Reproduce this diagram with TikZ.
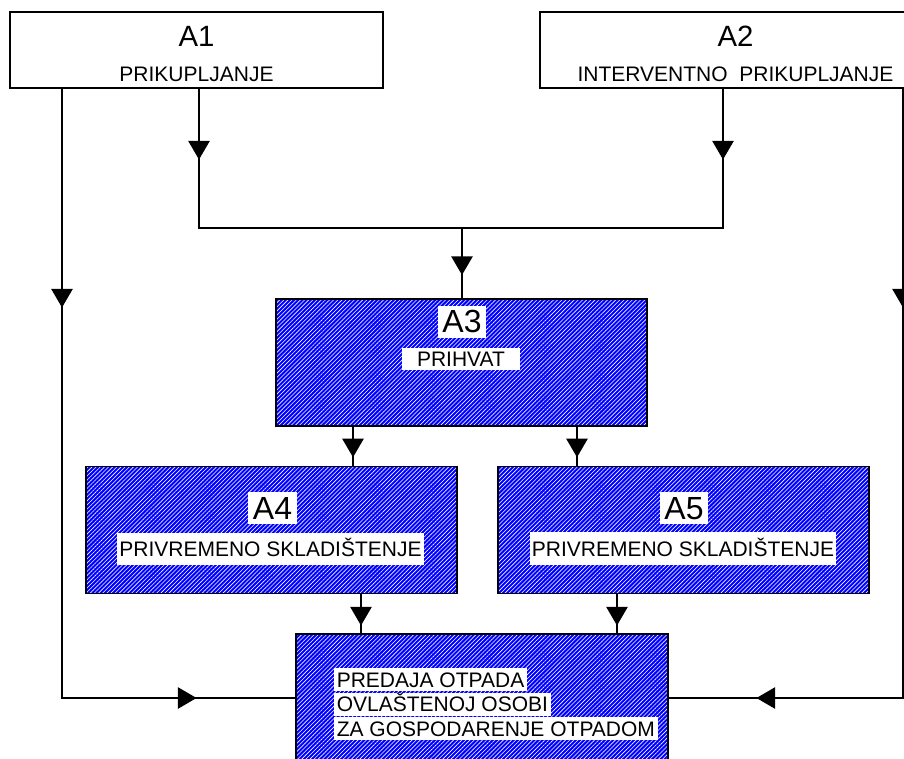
\documentclass[tikz,border=0pt]{standalone}
\usepackage{fontspec}
\setmainfont{Liberation Sans}
\usetikzlibrary{arrows.meta,patterns.meta,decorations.markings,positioning}

\begin{document}
\begin{tikzpicture}[x=0.75pt,y=-0.75pt,line width=1.2pt,
            top box/.style={draw,line width=0.8pt,inner sep=0pt,minimum height=57pt},
            work box/.style={draw,line width=0.8pt,inner sep=0pt,preaction={fill=blue},
                pattern={Lines[angle=45,distance=2.2pt,line width=0.45pt]},pattern color=white,
                minimum width=278.25pt,minimum height=95.25pt},
            tag/.style={fill=white,inner xsep=3.5pt,inner ysep=3.4pt,text height=17.2pt,text depth=0pt,
                font=\fontsize{24}{26}\selectfont},
            top tag/.style={inner sep=0pt,text height=15.8pt,text depth=0pt,font=\fontsize{22}{24}\selectfont},
            caption/.style={fill=white,inner xsep=1.5pt,inner ysep=2.6pt,text height=11.3pt,text depth=0pt,
                font=\fontsize{15.75}{18}\selectfont},
            flow arrow/.style={postaction={decorate,decoration={markings,
                mark=at position #1 with {\arrow{Triangle[length=14pt,width=16pt]}}}}}]

        \clip (0,0) rectangle (904,758);

        % top boxes
        \node[top box,minimum width=279.75pt] (A1) at (196.5,50) {};
        \node[top box,minimum width=293.25pt] (A2) at (735.5,50) {};
        \node[top tag] (A1t) at (196.5,36) {A1};
        \node[caption,fill=none] (A1s) at (196.5,73.5) {PRIKUPLJANJE};
        \node[top tag] (A2t) at (735.5,36) {A2};
        \node[caption,fill=none] (A2s) at (735.5,73.5) {INTERVENTNO\ \ PRIKUPLJANJE};

        % hatched boxes
        \node[work box] (A3) at (461.5,362.5) {};
        \node[work box] (A4) at (271.5,530) {};
        \node[work box] (A5) at (683.5,530) {};
        \node[work box,minimum width=279pt,minimum height=96pt] (A6) at (482,698) {};

        \node[tag] (A3t) at (462,321.5) {A3};
        \node[caption,inner xsep=11.6pt] (A3s) at (461,359) {PRIHVAT};
        \node[tag] (A4t) at (272.5,508) {A4};
        \node[caption,inner ysep=6.4pt] (A4s) at (270.5,549) {PRIVREMENO SKLADIŠTENJE};
        \node[tag] (A5t) at (684,508) {A5};
        \node[caption,inner ysep=6.4pt] (A5s) at (683,548.5) {PRIVREMENO SKLADIŠTENJE};

        \node[caption,inner xsep=2.25pt,inner ysep=3pt,anchor=west] (A6a) at (333,679.5) {PREDAJA OTPADA};
        \node[caption,inner xsep=2.25pt,inner ysep=3pt,anchor=north west,below right=0pt and 0pt of A6a.south west] (A6b) {OVLAŠTENOJ OSOBI};
        \node[caption,inner xsep=2.25pt,inner ysep=3pt,anchor=north west,below right=0pt and 0pt of A6b.south west] (A6c) {ZA GOSPODARENJE OTPADOM};

        % junction points
        \coordinate (L) at (62,698);
        \coordinate (R) at (903,698);
        \coordinate (JL) at (199,228);
        \coordinate (JR) at (723,228);
        \coordinate (J) at (462,228);
        \coordinate (c34) at (353,446);
        \coordinate (c35) at (577,446);
        \coordinate (c46) at (361,614);
        \coordinate (c56) at (617,614);

        % connectors
        \draw[flow arrow=164.25pt,flow arrow=558pt] (A1.south -| L) |- (A6.west);
        \draw[flow arrow=164.25pt,flow arrow=567pt] (A2.south -| R) |- (A6.east);
        \draw[flow arrow=53.25pt] (A1.south -| JL) |- (J);
        \draw[flow arrow=53.25pt] (A2.south -| JR) |- (J);
        \draw[flow arrow=35.25pt] (J) -- (A3.north -| J);
        \draw[flow arrow=23.25pt] (A3.south -| c34) -- (A4.north -| c34);
        \draw[flow arrow=23.25pt] (A3.south -| c35) -- (A5.north -| c35);
        \draw[flow arrow=23.6pt] (A4.south -| c46) -- (A6.north -| c46);
        \draw[flow arrow=23.6pt] (A5.south -| c56) -- (A6.north -| c56);

\end{tikzpicture}
\end{document}
